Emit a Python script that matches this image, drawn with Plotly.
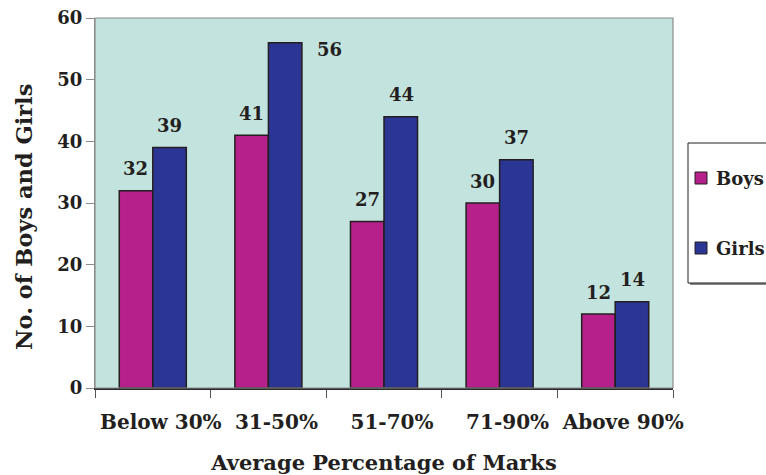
import plotly.graph_objects as go

# Average percentage of marks, boys vs girls
categories = ["Below 30%", "31-50%", "51-70%", "71-90%", "Above 90%"]
boys = [32, 41, 27, 30, 12]
girls = [39, 56, 44, 37, 14]
series_names = ["Boys", "Girls"]
y_ticks = [0, 10, 20, 30, 40, 50, 60]

colors = {"Boys": "#b5208a", "Girls": "#2b3594"}
ink = "#231f20"
font_family = "DejaVu Serif"

W, H = 766, 475
M = dict(l=95, r=93, t=18, b=87)
PW, PH = W - M["l"] - M["r"], H - M["t"] - M["b"]


def px_x(px):
    return (px - M["l"]) / PW


def px_y(py):
    return (H - M["b"] - py) / PH


def bold(size):
    return dict(family=font_family, size=size, color=ink, weight="bold")


fig = go.Figure()
for name, vals in zip(series_names, [boys, girls]):
    fig.add_trace(go.Bar(
        x=categories, y=vals, name=name,
        marker=dict(color=colors[name], line=dict(color=ink, width=1.5)),
        showlegend=False,
    ))

# value labels above each bar; the tallest one sits beside its bar
bar_half = 17
annotations = []
for name, vals, side in [("Boys", boys, -1), ("Girls", girls, 1)]:
    for cat, v in zip(categories, vals):
        beside = v == max(boys + girls)
        annotations.append(dict(
            x=cat, y=v, xref="x", yref="y", text=str(v), showarrow=False,
            xshift=side * bar_half + (44 if beside else 0),
            yshift=-7 if beside else 22,
            yanchor="middle", font=bold(18),
        ))

# y-axis title, written as a rotated annotation
annotations.append(dict(
    x=px_x(24), y=px_y(217), xref="paper", yref="paper",
    text="No. of Boys and Girls", textangle=-90, showarrow=False,
    xanchor="center", yanchor="middle", font=bold(22.5)))

# legend box with shadow
lx0, ly0, ly1 = 688, 143, 283
shapes = [
    dict(type="rect", xref="paper", yref="paper",
         x0=px_x(lx0 + 2), x1=px_x(820), y0=px_y(ly1 + 2), y1=px_y(ly0 + 2),
         fillcolor="#8a8a8a", line=dict(width=0), layer="above"),
    dict(type="rect", xref="paper", yref="paper",
         x0=px_x(lx0), x1=px_x(818), y0=px_y(ly1), y1=px_y(ly0),
         fillcolor="white", line=dict(color=ink, width=1), layer="above"),
    # plot frame (top and right edges in grey)
    dict(type="rect", xref="paper", yref="paper", x0=0, x1=1, y0=0, y1=1,
         line=dict(color="#8c8c8c", width=1.2), layer="above"),
]
for name, cy in zip(series_names, [178, 248]):
    shapes.append(dict(
        type="rect", xref="paper", yref="paper",
        x0=px_x(695), x1=px_x(707), y0=px_y(cy + 6), y1=px_y(cy - 6),
        fillcolor=colors[name], line=dict(color=ink, width=1), layer="above"))
    annotations.append(dict(
        x=px_x(714), y=px_y(cy), xref="paper", yref="paper", text=name,
        showarrow=False, xanchor="left", yanchor="middle", font=bold(18)))

fig.update_layout(
    width=W, height=H,
    margin=dict(**M, pad=0, autoexpand=False),
    paper_bgcolor="white", plot_bgcolor="#c3e3df",
    barmode="group", bargap=0.42, bargroupgap=0,
    annotations=annotations, shapes=shapes,
    xaxis=dict(
        type="category", showline=True, linecolor="#2b2b2b", linewidth=1.5,
        ticks="outside", tickson="boundaries", ticklen=8, tickcolor="#555555",
        ticklabelstandoff=15, ticklabelshift=8, tickangle=0,
        tickfont=bold(20),
        title=dict(text="Average Percentage of Marks", standoff=27,
                   font=bold(21)),
        showgrid=False,
    ),
    yaxis=dict(
        range=[0, 60], tickvals=y_ticks, showline=True, linecolor="#8c8c8c",
        linewidth=1.2, ticks="outside", ticklen=8, tickcolor="#8c8c8c",
        tickfont=bold(18),
        showgrid=False, zeroline=False,
    ),
)

fig.write_html("out.html")
